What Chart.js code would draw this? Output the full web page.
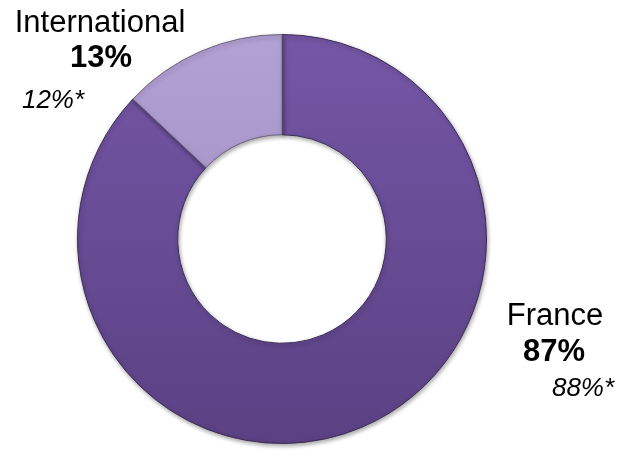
<!DOCTYPE html>
<html>
<head>
<meta charset="utf-8">
<script src="https://cdn.jsdelivr.net/npm/chart.js@4/dist/chart.umd.min.js"></script>
<style>
html,body{margin:0;padding:0;background:#fff;}
#wrap{position:relative;width:619px;height:452px;}
</style>
</head>
<body>
<div id="wrap"><canvas id="c" width="619" height="452"></canvas></div>
<script>
const categories = ['France', 'International'];
const shares = [87, 13];
const previousShares = ['88%*', '12%*'];

const colorsTop = ['#7556a6', '#b2a1d3'];
const colorsBottom = ['#5a4183', '#9985bb'];

function sliceFill(ctx) {
  const chart = ctx.chart;
  const area = chart.chartArea;
  if (!area) return colorsTop[ctx.dataIndex];
  const g = chart.ctx.createLinearGradient(0, area.top, 0, area.bottom);
  g.addColorStop(0, colorsTop[ctx.dataIndex]);
  g.addColorStop(1, colorsBottom[ctx.dataIndex]);
  return g;
}

const labelPlugin = {
  id: 'sideLabels',
  afterDraw(chart) {
    const c = chart.ctx;
    c.save();
    c.fillStyle = '#000';
    c.textAlign = 'center';
    c.textBaseline = 'alphabetic';
    const font = 'Liberation Sans, Arial, sans-serif';
    // International
    c.font = '31px ' + font;
    c.fillText(categories[1], 100, 32);
    c.font = 'bold 31px ' + font;
    c.fillText(shares[1] + '%', 101, 67);
    c.font = 'italic 26px ' + font;
    c.fillText(previousShares[1], 53, 108);
    // France
    c.font = '31px ' + font;
    c.fillText(categories[0], 555, 325);
    c.font = 'bold 31px ' + font;
    c.fillText(shares[0] + '%', 554, 361);
    c.font = 'italic 26px ' + font;
    c.fillText(previousShares[0], 583, 396);
    c.restore();
  }
};

const shadowPlugin = {
  id: 'ringShadow',
  beforeDatasetsDraw(chart) {
    chart.ctx.save();
    chart.ctx.shadowColor = 'rgba(0,0,0,0.35)';
    chart.ctx.shadowBlur = 4;
    chart.ctx.shadowOffsetX = 1;
    chart.ctx.shadowOffsetY = 2;
  },
  afterDatasetsDraw(chart) {
    chart.ctx.restore();
  }
};

new Chart(document.getElementById('c'), {
  type: 'doughnut',
  data: {
    labels: categories,
    datasets: [{
      data: shares,
      backgroundColor: sliceFill,
      borderColor: ['#3b2c55', '#6e6280'],
      borderWidth: 1
    }]
  },
  options: {
    responsive: false,
    animation: false,
    cutout: '51%',
    layout: { padding: { left: 77, right: 132, top: 34, bottom: 8 } },
    plugins: {
      legend: { display: false },
      tooltip: { enabled: false }
    }
  },
  plugins: [shadowPlugin, labelPlugin]
});
</script>
</body>
</html>
